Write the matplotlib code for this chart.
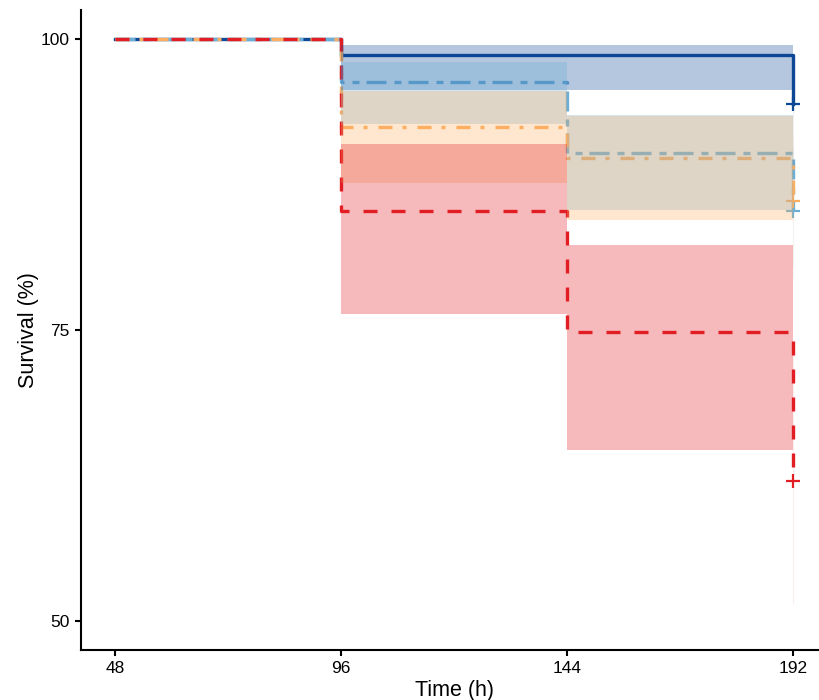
import numpy as np
import matplotlib
matplotlib.use("Agg")
import matplotlib.pyplot as plt

plt.rcParams['font.family'] = ['Liberation Sans', 'DejaVu Sans']

# Kaplan-Meier estimates (%) at each event time, with 95% confidence limits
times = [48, 96, 144, 192]

surv_a = [100, 98.6, 98.6, 94.4]
lower_a = [100, 95.6, 95.6, 89.2]
upper_a = [100, 99.5, 99.5, 98.3]

surv_b = [100, 96.3, 90.2, 85.2]
lower_b = [100, 92.7, 85.3, 79.5]
upper_b = [100, 98.05, 93.45, 90.6]

surv_c = [100, 92.4, 89.8, 86.1]
lower_c = [100, 87.6, 84.45, 80.4]
upper_c = [100, 95.5, 93.35, 91.5]

surv_d = [100, 85.25, 74.8, 62.0]
lower_d = [100, 76.4, 64.7, 51.5]
upper_d = [100, 91.0, 82.3, 73.5]

colors = ['#0c4896', '#6baed6', '#fdae61', '#e21d24']
dashes = [None, (6, 2.4, 2.1, 2.1), (4.2, 3.0, 1.2, 3.3), (4.2, 4.2)]

groups = [
    (surv_a, lower_a, upper_a),
    (surv_b, lower_b, upper_b),
    (surv_c, lower_c, upper_c),
    (surv_d, lower_d, upper_d),
]

fig = plt.figure(figsize=(8.19, 7.0), dpi=100)
ax = fig.add_axes([0.0989, 0.0714, 0.911, 0.9145])

# step curves first, confidence ribbons laid over them
for (s, lo, hi), c, d in zip(groups, colors, dashes):
    line, = ax.step(times, s, where='post', color=c, lw=2.4, zorder=2)
    if d is not None:
        line.set_dashes(d)
    ax.plot(times[-1], s[-1], marker='+', ms=10, mew=1.6, color=c, zorder=2)

for (s, lo, hi), c in zip(groups, colors):
    ax.fill_between(times, lo, hi, step='post', color=c, alpha=0.3, lw=0, zorder=3)
    ax.vlines(times[-1], lo[-1], hi[-1], color=c, alpha=0.08, lw=0.8, zorder=3)

ax.set_xlim(40.8, 199.2)
ax.set_ylim(47.5, 102.5)
ax.set_xticks(times)
ax.set_yticks([50, 75, 100])

for side in ['top', 'right']:
    ax.spines[side].set_visible(False)
for side in ['left', 'bottom']:
    ax.spines[side].set_linewidth(1.5)
ax.tick_params(axis='both', length=4, width=1.5, labelsize=12.5, pad=4, colors='black')

ax.set_xlabel('Time (h)', fontsize=15.5, labelpad=3)
ax.set_ylabel('Survival (%)', fontsize=15.5, labelpad=1.5)

fig.savefig('out.png', dpi=100)
